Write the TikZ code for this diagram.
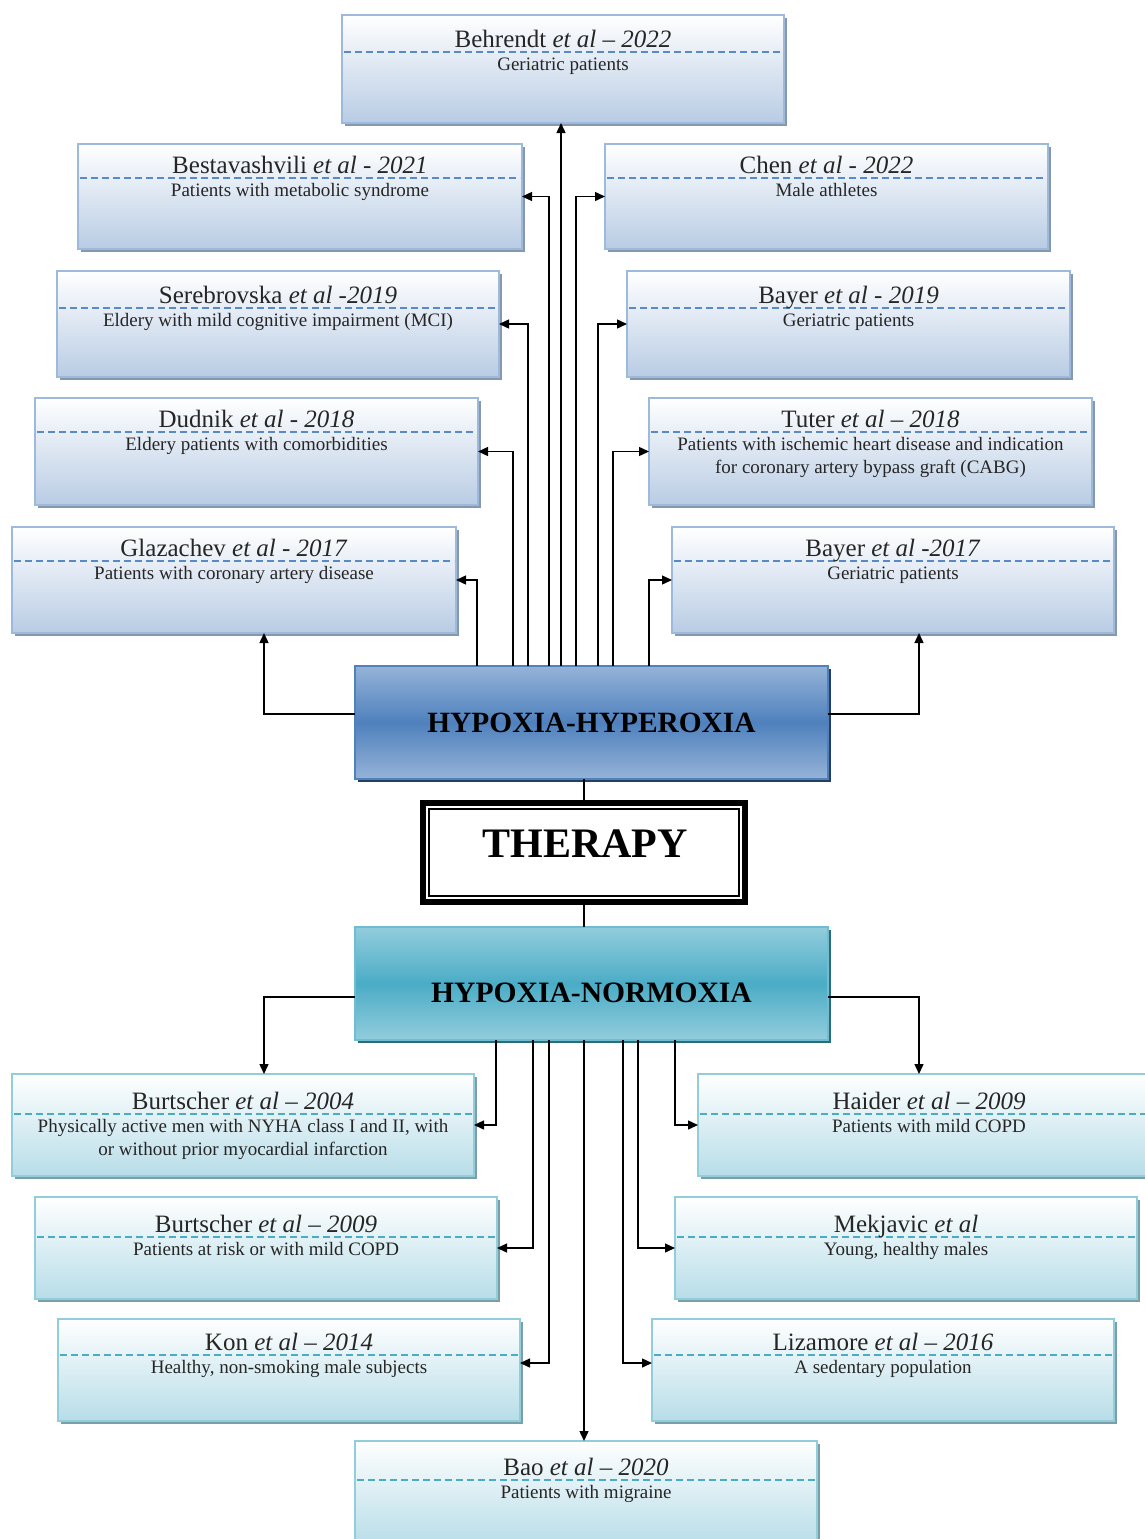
\documentclass[tikz,border=0pt]{standalone}
\usepackage{fontspec}
\setmainfont{Liberation Serif}
\usetikzlibrary{arrows.meta,shadows}
\definecolor{bluFill}{HTML}{B8CCE4}
\definecolor{bluLine}{HTML}{9DB9DC}
\definecolor{bluDash}{HTML}{5A8AC6}
\definecolor{bluShadow}{HTML}{8797AE}
\definecolor{tealFill}{HTML}{B7DDE8}
\definecolor{tealLine}{HTML}{92CDDC}
\definecolor{tealDash}{HTML}{4BACC6}
\definecolor{tealShadow}{HTML}{7C9EA8}
\definecolor{hypLight}{HTML}{95B3D7}
\definecolor{hypMid}{HTML}{4F81BD}
\definecolor{hypShadow}{HTML}{243F60}
\definecolor{norLight}{HTML}{92CDDC}
\definecolor{norMid}{HTML}{4BACC6}
\definecolor{norShadow}{HTML}{2E6B7A}
\newcommand\rbox[9]{%
  \node[#2box, anchor=north west, minimum width={#5-#3}, minimum height={#6-#4}] (#1) at (#3,#4) {};
  \draw[#2dash] ({#3+2},#7) -- ({#5-2},#7);
  \node[titletext, anchor=base] (#1t) at ({(#3+#5)/2},{#7-5}) {#8};
  \node[subtext, anchor=base] (#1s) at ({(#3+#5)/2},{#7+18}) {\begin{tabular}[t]{@{}c@{}}#9\end{tabular}};
}
\begin{document}
\begin{tikzpicture}[x=1pt,y=-1pt,
  blubox/.style={draw=bluLine, line width=1.2pt, top color=white, bottom color=bluFill, middle color=bluFill!50!white,
    drop shadow={shadow xshift=3pt, shadow yshift=-3pt, opacity=1, fill=bluShadow}, inner sep=0pt, outer sep=0pt},
  tealbox/.style={draw=tealLine, line width=1.2pt, top color=white, bottom color=tealFill, middle color=tealFill!50!white,
    drop shadow={shadow xshift=3pt, shadow yshift=-3pt, opacity=1, fill=tealShadow}, inner sep=0pt, outer sep=0pt},
  bludash/.style={draw=bluDash, line width=1.1pt, dash pattern=on 7pt off 4pt},
  tealdash/.style={draw=tealDash, line width=1.1pt, dash pattern=on 7pt off 4pt},
  titletext/.style={inner sep=0pt, font=\fontsize{25}{29}\selectfont, text=black!85},
  subtext/.style={inner sep=0pt, font=\fontsize{19}{23}\selectfont, text=black!85},
  hypbox/.style={draw=hypMid, line width=1.2pt, top color=hypLight, bottom color=hypLight, middle color=hypMid,
    drop shadow={shadow xshift=3pt, shadow yshift=-3pt, opacity=1, fill=hypShadow}, inner sep=0pt, outer sep=0pt,
    font=\fontsize{29.4}{34}\selectfont\bfseries},
  norbox/.style={draw=norMid!80!white, line width=1.2pt, top color=norLight, bottom color=norLight, middle color=norMid,
    drop shadow={shadow xshift=3pt, shadow yshift=-3pt, opacity=1, fill=norShadow}, inner sep=0pt, outer sep=0pt},
  headtext/.style={inner sep=0pt, font=\fontsize{29.6}{34}\selectfont\bfseries},
  arr/.style={line width=1.4pt, -{Triangle[length=10pt,width=9pt]}},
  conn/.style={line width=1.4pt}
]
\useasboundingbox (0,0) rectangle (1145,1539);
\fill[white] (0,0) rectangle (1145,1539);

% top (hypoxia-hyperoxia) studies
\rbox{beh}{blu}{342}{15}{784}{123}{52}{Behrendt \textit{et al – 2022}}{Geriatric patients}
\rbox{bes}{blu}{78}{144}{522}{249}{178}{Bestavashvili \textit{et al - 2021}}{Patients with metabolic syndrome}
\rbox{che}{blu}{605}{144}{1048}{249}{178}{Chen \textit{et al - 2022}}{Male athletes}
\rbox{ser}{blu}{57}{271}{499}{377}{308}{Serebrovska \textit{et al -2019}}{Eldery with mild cognitive impairment (MCI)}
\rbox{bay19}{blu}{627}{271}{1070}{377}{308}{Bayer \textit{et al - 2019}}{Geriatric patients}
\rbox{dud}{blu}{35}{398}{478}{505}{432}{Dudnik \textit{et al - 2018}}{Eldery patients with comorbidities}
\rbox{tut}{blu}{649}{398}{1092}{505}{432}{Tuter \textit{et al – 2018}}{Patients with ischemic heart disease and indication\\for coronary artery bypass graft (CABG)}
\rbox{gla}{blu}{12}{527}{456}{633}{561}{Glazachev \textit{et al - 2017}}{Patients with coronary artery disease}
\rbox{bay17}{blu}{672}{527}{1114}{633}{561}{Bayer \textit{et al -2017}}{Geriatric patients}

% bottom (hypoxia-normoxia) studies
\rbox{bur04}{teal}{12}{1074}{474}{1176}{1114}{Burtscher \textit{et al – 2004}}{Physically active men with NYHA class I and II, with\\or without prior myocardial infarction}
\rbox{hai}{teal}{698}{1074}{1160}{1176}{1114}{Haider \textit{et al – 2009}}{Patients with mild COPD}
\rbox{bur09}{teal}{35}{1197}{497}{1299}{1237}{Burtscher \textit{et al – 2009}}{Patients at risk or with mild COPD}
\rbox{mek}{teal}{675}{1197}{1137}{1299}{1237}{Mekjavic \textit{et al}}{Young, healthy males}
\rbox{kon}{teal}{58}{1319}{520}{1421}{1355}{Kon \textit{et al – 2014}}{Healthy, non-smoking male subjects}
\rbox{liz}{teal}{652}{1319}{1114}{1421}{1355}{Lizamore \textit{et al – 2016}}{A sedentary population}
\rbox{bao}{teal}{355}{1441}{817}{1545}{1480}{Bao \textit{et al – 2020}}{Patients with migraine}

% central blocks
\node[hypbox, minimum width=473pt, minimum height=113pt] (hyp) at (591.5,722.5) {HYPOXIA-HYPEROXIA};
\node[draw, line width=6pt, minimum width=322pt, minimum height=99pt, inner sep=0pt, outer sep=0pt] (th) at (584,852.5) {};
\draw[line width=1.5pt] ([shift={(6pt,-6pt)}]th.north west) rectangle ([shift={(-6pt,6pt)}]th.south east);
\node[inner sep=0pt, font=\fontsize{42}{48}\selectfont\bfseries] (tht) at (585,844) {THERAPY};
\node[norbox, minimum width=473pt, minimum height=113pt] (nor) at (591.5,983.5) {};
\node[headtext] (nort) at (591.5,993) {HYPOXIA-NORMOXIA};

% middle links
\draw[conn] (th.north) -- (th.north |- hyp.south);
\draw[conn] (th.south) -- (th.south |- nor.north);

% top connectors
\draw[arr] ([xshift=-114.5pt]hyp.north) |- (gla.east);
\draw[arr] ([xshift=-78.5pt]hyp.north) |- (dud.east);
\draw[arr] ([xshift=-63.5pt]hyp.north) |- (ser.east);
\draw[arr] ([xshift=-42.5pt]hyp.north) |- (bes.east);
\draw[arr] ([xshift=-30.5pt]hyp.north) coordinate (t5) -- (t5 |- beh.south);
\draw[arr] ([xshift=-15.5pt]hyp.north) |- (che.west);
\draw[arr] ([xshift=6.5pt]hyp.north) |- (bay19.west);
\draw[arr] ([xshift=21.5pt]hyp.north) |- (tut.west);
\draw[arr] ([xshift=57.5pt]hyp.north) |- (bay17.west);
\draw[arr] ([yshift=8.5pt]hyp.west) -| ([xshift=30pt]gla.south);
\draw[arr] ([yshift=8.5pt]hyp.east) -| ([xshift=26pt]bay17.south);

% bottom connectors
\draw[arr] ([yshift=-13.5pt]nor.west) -| ([xshift=21pt]bur04.north);
\draw[arr] ([yshift=-13.5pt]nor.east) -| ([xshift=-10pt]hai.north);
\draw[arr] ([xshift=-95.5pt]nor.south) |- (bur04.east);
\draw[arr] ([xshift=-58.5pt]nor.south) |- (bur09.east);
\draw[arr] ([xshift=-42.5pt]nor.south) |- ([yshift=7pt]kon.east);
\draw[arr] ([xshift=-7.5pt]nor.south) coordinate (b4) -- (b4 |- bao.north);
\draw[arr] ([xshift=31.5pt]nor.south) |- ([yshift=7pt]liz.west);
\draw[arr] ([xshift=46.5pt]nor.south) |- (mek.west);
\draw[arr] ([xshift=83.5pt]nor.south) |- (hai.west);
\end{tikzpicture}
\end{document}
